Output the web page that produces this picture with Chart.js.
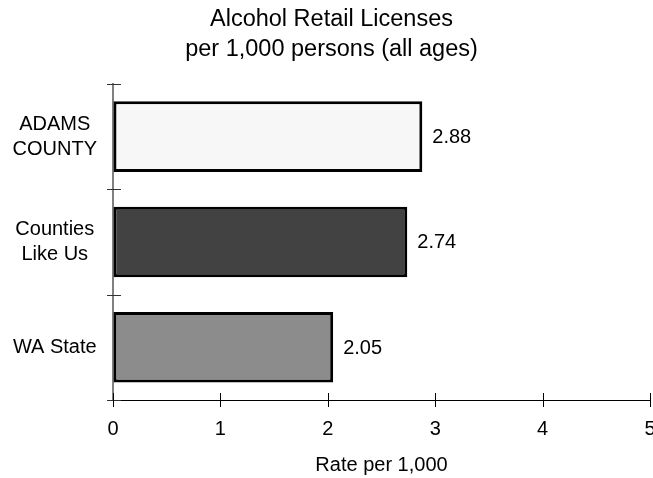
<!DOCTYPE html>
<html>
<head>
<meta charset="utf-8">
<script src="https://cdn.jsdelivr.net/npm/chart.js@4"></script>
<style>
  html, body { margin: 0; padding: 0; background: #ffffff; }
  canvas { display: block; }
</style>
</head>
<body>
<canvas id="c" width="653" height="478"></canvas>
<script>
const categories = [["ADAMS", "COUNTY"], ["Counties", "Like Us"], ["WA State"]];
const values = [2.88, 2.74, 2.05];
const valueLabels = ["2.88", "2.74", "2.05"];
const barColors = ["#f7f7f7", "#424242", "#8c8c8c"];
const xTicks = [0, 1, 2, 3, 4, 5];
const titleLines = ["Alcohol Retail Licenses", "per 1,000 persons (all ages)"];
const xTitle = "Rate per 1,000";

const FONT = "'Liberation Sans', Arial, Helvetica, sans-serif";

const crossTicks = {
  id: 'crossTicks',
  beforeDatasetsDraw(chart) {
    const ctx = chart.ctx;
    const xs = chart.scales.x, ys = chart.scales.y;
    ctx.save();
    ctx.lineWidth = 1;
    ctx.strokeStyle = '#333333';
    for (let i = 0; i <= categories.length; i++) {
      const py = Math.round(ys.getPixelForValue(i - 0.5)) + 0.5;
      ctx.beginPath();
      ctx.moveTo(xs.left - 6, py);
      ctx.lineTo(xs.left + 8, py);
      ctx.stroke();
    }
    ctx.strokeStyle = '#000000';
    xTicks.forEach(v => {
      const px = Math.round(xs.getPixelForValue(v)) + 0.5;
      ctx.beginPath();
      ctx.moveTo(px, ys.bottom - 7);
      ctx.lineTo(px, ys.bottom + 7);
      ctx.stroke();
    });
    ctx.restore();
  },
  afterDatasetsDraw(chart) {
    const ctx = chart.ctx;
    const meta = chart.getDatasetMeta(0);
    ctx.save();
    ctx.fillStyle = '#000000';
    ctx.font = "20px " + FONT;
    ctx.textAlign = 'left';
    ctx.textBaseline = 'middle';
    meta.data.forEach((bar, i) => {
      ctx.fillText(valueLabels[i], bar.x + 10, bar.y + 1);
    });
    ctx.restore();
  }
};

new Chart(document.getElementById('c'), {
  type: 'bar',
  data: {
    labels: categories,
    datasets: [{
      data: values,
      backgroundColor: barColors,
      borderColor: '#000000',
      borderWidth: 3,
      borderSkipped: false,
      barPercentage: 0.67,
      categoryPercentage: 1.0
    }]
  },
  options: {
    indexAxis: 'y',
    responsive: false,
    animation: false,
    layout: { padding: { left: 13, right: 3, top: 0, bottom: 0 } },
    plugins: {
      legend: { display: false },
      tooltip: { enabled: false },
      title: {
        display: true,
        text: titleLines,
        color: '#000000',
        font: { family: FONT, size: 23.5, weight: 'normal', lineHeight: 1.28 },
        padding: { top: 4, bottom: 19.8 }
      }
    },
    scales: {
      x: {
        type: 'linear',
        min: 0,
        max: 5,
        ticks: {
          stepSize: 1,
          color: '#000000',
          font: { family: FONT, size: 20 },
          padding: 17,
          maxRotation: 0
        },
        grid: { display: true, drawOnChartArea: false, drawTicks: false, color: 'rgba(0,0,0,0)' },
        border: { display: true, color: '#000000', width: 1 },
        title: {
          display: true,
          text: xTitle,
          color: '#000000',
          font: { family: FONT, size: 20 },
          padding: { top: 0, bottom: 1 }
        },
        afterFit(scale) {
          scale.height = 78;
          scale.paddingLeft = 0;
          scale.paddingRight = 0;
        }
      },
      y: {
        type: 'category',
        offset: true,
        ticks: {
          color: '#000000',
          font: { family: FONT, size: 20, lineHeight: 1.25 },
          padding: 16,
          crossAlign: 'center'
        },
        grid: { display: true, drawOnChartArea: false, drawTicks: false, offset: true, color: 'rgba(0,0,0,0)' },
        border: { display: true, color: '#808080', width: 2 },
        afterFit(scale) {
          scale.width = 100;
          scale.paddingTop = 0;
          scale.paddingBottom = 0;
        }
      }
    }
  },
  plugins: [crossTicks]
});
</script>
</body>
</html>
